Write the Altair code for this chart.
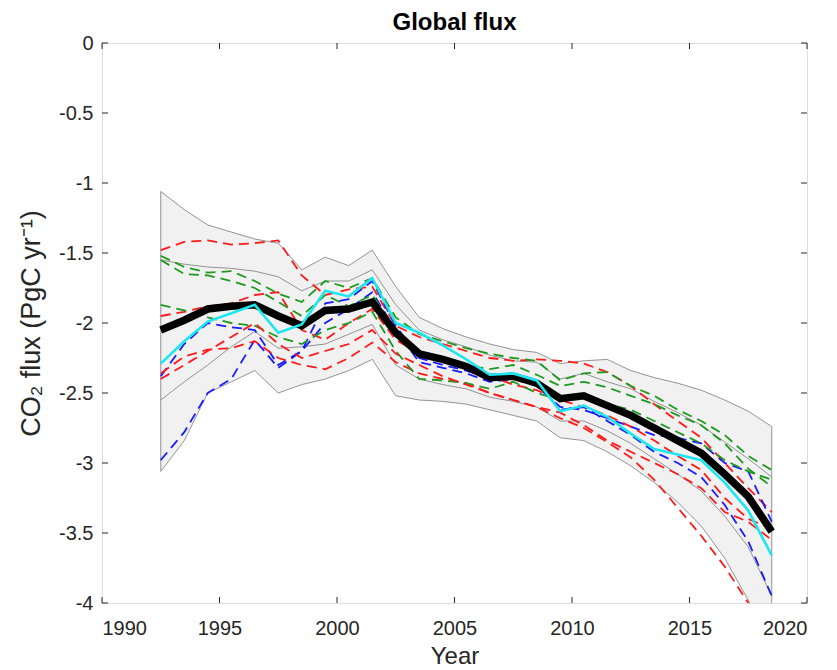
import altair as alt
import pandas as pd

years = [1992.5 + i for i in range(27)]

mean_flux = [-2.05, -1.98, -1.90, -1.88, -1.87, -1.95, -2.02, -1.91, -1.90, -1.85, -2.07, -2.22, -2.26,
             -2.31, -2.39, -2.38, -2.43, -2.54, -2.52, -2.59, -2.66, -2.75, -2.84, -2.93, -3.08, -3.24, -3.49]
cyan_flux = [-2.29, -2.13, -1.99, -1.93, -1.87, -2.07, -2.01, -1.77, -1.81, -1.68, -2.00, -2.07, -2.16,
             -2.26, -2.37, -2.36, -2.41, -2.63, -2.59, -2.67, -2.79, -2.90, -2.94, -2.98, -3.14, -3.34, -3.66]

outer_up = [-1.06, -1.19, -1.30, -1.35, -1.40, -1.43, -1.62, -1.53, -1.59, -1.48, -1.74, -1.96, -2.04,
            -2.10, -2.15, -2.19, -2.21, -2.29, -2.27, -2.26, -2.34, -2.39, -2.43, -2.48, -2.55, -2.63, -2.74]
inner_up = [-1.55, -1.58, -1.60, -1.61, -1.63, -1.67, -1.77, -1.70, -1.70, -1.62, -1.87, -2.05, -2.12,
            -2.17, -2.23, -2.27, -2.28, -2.40, -2.36, -2.42, -2.47, -2.56, -2.64, -2.73, -2.85, -2.97, -3.10]
inner_lo = [-2.55, -2.42, -2.30, -2.17, -2.06, -2.18, -2.17, -2.15, -2.08, -2.01, -2.30, -2.40, -2.44,
            -2.47, -2.53, -2.56, -2.60, -2.70, -2.70, -2.77, -2.86, -2.97, -3.08, -3.20, -3.38, -3.60, -3.95]
outer_lo = [-3.06, -2.84, -2.50, -2.42, -2.34, -2.50, -2.44, -2.40, -2.34, -2.26, -2.52, -2.55, -2.56,
            -2.58, -2.62, -2.66, -2.70, -2.82, -2.84, -2.92, -3.02, -3.14, -3.28, -3.45, -3.68, -3.98, -4.30]

red1 = [-1.48, -1.42, -1.41, -1.44, -1.43, -1.41, -1.66, -1.80, -1.76, -1.74, -2.02, -2.10, -2.15,
        -2.20, -2.25, -2.27, -2.26, -2.27, -2.29, -2.35, -2.45, -2.58, -2.70, -2.82, -3.00, -3.18, -3.35]
red2 = [-1.95, -1.92, -1.88, -1.86, -1.80, -1.78, -2.05, -2.12, -2.00, -1.90, -2.12, -2.22, -2.27,
        -2.33, -2.38, -2.44, -2.48, -2.55, -2.60, -2.66, -2.74, -2.84, -2.95, -3.05, -3.25, -3.40, -3.47]
red3 = [-2.36, -2.24, -2.19, -2.18, -2.13, -2.25, -2.30, -2.33, -2.25, -2.14, -2.28, -2.36, -2.40,
        -2.43, -2.50, -2.55, -2.60, -2.64, -2.73, -2.84, -2.92, -3.00, -3.08, -3.18, -3.35, -3.42, -3.55]
red4 = [-2.40, -2.30, -2.20, -2.10, -2.00, -2.15, -2.25, -2.20, -2.15, -2.05, -2.22, -2.30, -2.38,
        -2.44, -2.50, -2.55, -2.60, -2.68, -2.75, -2.85, -2.96, -3.12, -3.32, -3.52, -3.74, -4.00, -4.20]
green1 = [-1.52, -1.60, -1.64, -1.63, -1.70, -1.79, -1.85, -1.70, -1.75, -1.68, -1.96, -2.08, -2.13,
          -2.18, -2.22, -2.25, -2.27, -2.41, -2.36, -2.35, -2.45, -2.52, -2.62, -2.70, -2.80, -2.95, -3.05]
green2 = [-1.55, -1.65, -1.66, -1.70, -1.75, -1.85, -1.95, -1.80, -1.88, -1.80, -2.05, -2.20, -2.26,
          -2.30, -2.33, -2.30, -2.37, -2.45, -2.42, -2.46, -2.52, -2.58, -2.66, -2.73, -2.86, -3.04, -3.17]
green3 = [-1.87, -1.91, -1.96, -2.00, -2.02, -2.10, -2.15, -2.05, -2.00, -1.92, -2.20, -2.40, -2.41,
          -2.43, -2.47, -2.42, -2.50, -2.55, -2.52, -2.58, -2.62, -2.70, -2.78, -2.86, -2.98, -3.06, -3.12]
blue1 = [-2.98, -2.78, -2.50, -2.40, -2.12, -2.32, -2.20, -2.00, -1.90, -1.78, -2.05, -2.28, -2.32,
         -2.36, -2.42, -2.40, -2.45, -2.60, -2.62, -2.68, -2.74, -2.80, -2.82, -2.86, -3.00, -3.06, -3.42]
blue2 = [-2.38, -2.15, -2.00, -2.03, -2.05, -2.30, -2.20, -1.86, -1.83, -1.70, -2.02, -2.25, -2.30,
         -2.34, -2.40, -2.38, -2.43, -2.62, -2.60, -2.70, -2.80, -2.92, -3.00, -3.10, -3.30, -3.56, -3.95]

x_ticks = [1990, 1995, 2000, 2005, 2010, 2015, 2020]
y_ticks = [0, -0.5, -1, -1.5, -2, -2.5, -3, -3.5, -4]

W, H = 705, 560
FONT = "Liberation Sans"

xs = alt.Scale(domain=[1990, 2020], nice=False, zero=False)
ys = alt.Scale(domain=[-4, 0], nice=False, zero=False)

x_axis = alt.Axis(values=x_ticks, format="d", tickSize=0, domain=False, grid=False,
                  labelFont=FONT, labelFontSize=20, labelColor="#262626", labelPadding=15,
                  title="Year", titleFont=FONT, titleFontSize=24, titleFontWeight="normal",
                  titleColor="#262626", titleX=W / 2, titleY=53, titleBaseline="middle")
y_axis = alt.Axis(values=y_ticks, labelExpr="'' + datum.value", tickSize=0, domain=False, grid=False,
                  labelFont=FONT, labelFontSize=20, labelColor="#262626", labelPadding=9,
                  title="CO\u2082 flux (PgC yr\u207b\u00b9)", titleFont=FONT, titleFontSize=27,
                  titleFontWeight="normal", titleColor="#262626", titleX=-71, titleY=H / 2,
                  titleBaseline="middle", titleAlign="center", titleAngle=-90)


def X(field):
    return alt.X(field, scale=xs, axis=x_axis)


def Y(field):
    return alt.Y(field, scale=ys, axis=y_axis)


band_df = pd.DataFrame({"year": years, "lo": outer_lo, "hi": outer_up})
band = alt.Chart(band_df).mark_area(color="#f1f1f1", stroke="#7a7a7a", strokeWidth=0.8, clip=True).encode(
    x=X("year:Q"), y=Y("lo:Q"), y2="hi:Q",
)

gray_rows = []
for name, vals in [("inner_up", inner_up), ("inner_lo", inner_lo)]:
    for yr, v in zip(years, vals):
        gray_rows.append({"year": yr, "v": v, "s": name})
gray = alt.Chart(pd.DataFrame(gray_rows)).mark_line(color="#7a7a7a", strokeWidth=0.8, clip=True).encode(
    x=X("year:Q"), y=Y("v:Q"), detail="s:N",
)

members = [("red1", red1), ("green1", green1), ("blue1", blue1), ("red2", red2), ("green2", green2),
           ("blue2", blue2), ("red3", red3), ("green3", green3), ("red4", red4)]
member_colors = {"red1": "#ff1a1a", "red2": "#ff1a1a", "red3": "#ff1a1a", "red4": "#ff1a1a",
                 "green1": "#1f9a1f", "green2": "#1f9a1f", "green3": "#1f9a1f",
                 "blue1": "#1a1aff", "blue2": "#1a1aff"}
mem_rows = []
for name, vals in members:
    for yr, v in zip(years, vals):
        mem_rows.append({"year": yr, "v": v, "s": name})
dashed = alt.Chart(pd.DataFrame(mem_rows)).mark_line(strokeWidth=1.8, strokeDash=[10, 6], clip=True).encode(
    x=X("year:Q"), y=Y("v:Q"),
    color=alt.Color("s:N", scale=alt.Scale(domain=[m[0] for m in members],
                                           range=[member_colors[m[0]] for m in members]), legend=None),
    detail="s:N",
)

main_df = pd.DataFrame({"year": years, "mean": mean_flux, "cyan": cyan_flux})
black = alt.Chart(main_df).mark_line(color="black", strokeWidth=7.5, clip=True).encode(
    x=X("year:Q"), y=Y("mean:Q"),
)
cyan = alt.Chart(main_df).mark_line(color="#1ee6f0", strokeWidth=2.6, clip=True).encode(
    x=X("year:Q"), y=Y("cyan:Q"),
)

xt = pd.DataFrame({"t": x_ticks})
yt = pd.DataFrame({"t": y_ticks})
tick_col = "#262626"
xt_bot = alt.Chart(xt).mark_rule(color=tick_col, strokeWidth=1).encode(
    x=X("t:Q"), y=alt.value(H), y2=alt.value(H - 6))
xt_top = alt.Chart(xt).mark_rule(color=tick_col, strokeWidth=1).encode(
    x=X("t:Q"), y=alt.value(0), y2=alt.value(6))
yt_left = alt.Chart(yt).mark_rule(color=tick_col, strokeWidth=1).encode(
    y=Y("t:Q"), x=alt.value(0), x2=alt.value(6))
yt_right = alt.Chart(yt).mark_rule(color=tick_col, strokeWidth=1).encode(
    y=Y("t:Q"), x=alt.value(W - 6), x2=alt.value(W))

chart = alt.layer(band, gray, dashed, black, cyan, xt_bot, xt_top, yt_left, yt_right).properties(
    width=W, height=H,
    title=alt.TitleParams("Global flux", font=FONT, fontSize=24, fontWeight="bold", color="black",
                          anchor="middle", offset=-2),
    autosize=alt.AutoSizeParams(type="none"),
    padding={"left": 94, "top": 35, "right": 20, "bottom": 66},
).configure_view(stroke="#262626", strokeWidth=1.2).configure(background="white")

chart.save("out.html", embed_options={"renderer": "svg", "actions": False})
